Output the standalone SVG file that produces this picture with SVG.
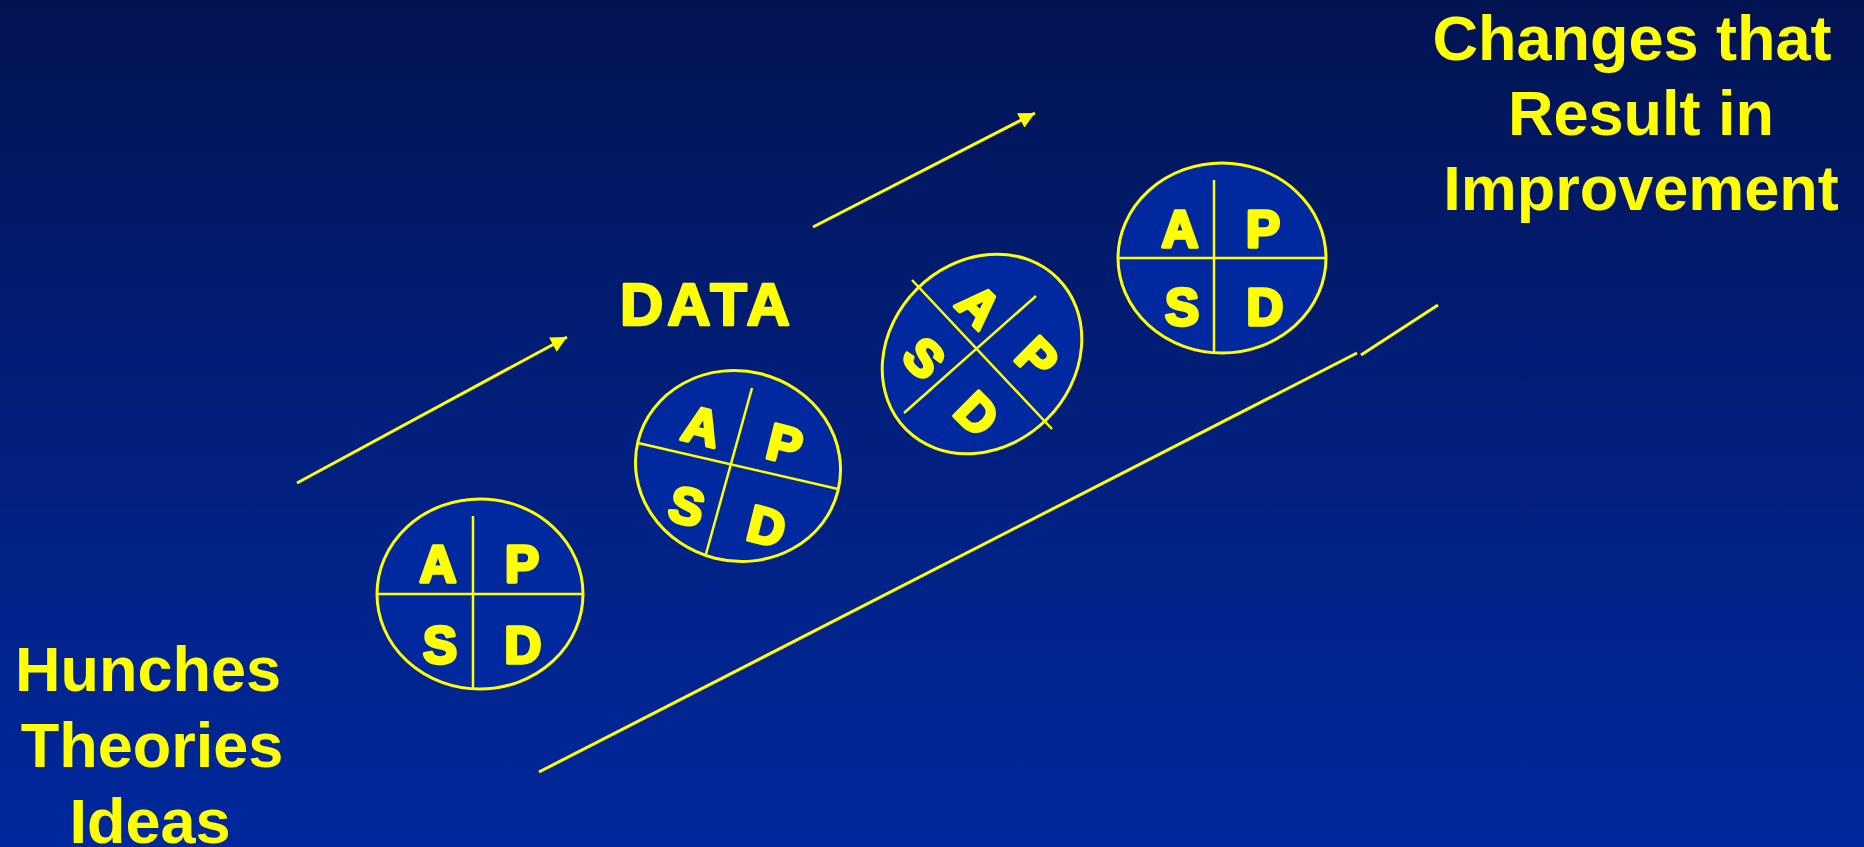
<svg xmlns="http://www.w3.org/2000/svg" width="1864" height="847" viewBox="0 0 1864 847">
  <defs>
    <linearGradient id="bg" x1="0" y1="0" x2="0" y2="1">
      <stop offset="0" stop-color="#021352"/>
      <stop offset="0.5" stop-color="#011f7c"/>
      <stop offset="1" stop-color="#00289c"/>
    </linearGradient>
    <marker id="arrow" viewBox="0 0 10 10" refX="10" refY="5" markerWidth="18" markerHeight="16" markerUnits="userSpaceOnUse" orient="auto">
      <path d="M0,0 L10,5 L0,10 z" fill="#ffff00"/>
    </marker>
    <style>
      .ell { fill: #0029a0; stroke: #ffff00; stroke-width: 3; }
      .div { stroke: #ffff00; stroke-width: 2.5; fill: none; }
      .conn { stroke: #ffff00; stroke-width: 3; fill: none; }
      .ltr { font-family: "Liberation Sans", Arial, sans-serif; font-weight: bold; font-size: 51px; fill: #ffff00; stroke: #ffff00; stroke-width: 3.5; stroke-linejoin: round; text-anchor: middle; }
      .big { font-family: "Liberation Sans", Arial, sans-serif; font-weight: bold; font-size: 63px; fill: #ffff00; text-anchor: middle; }
      .data { font-family: "Liberation Sans", Arial, sans-serif; font-weight: bold; font-size: 60px; fill: #ffff00; stroke: #ffff00; stroke-width: 2.5; stroke-linejoin: round; letter-spacing: 4px; }
    </style>
  </defs>
  <rect x="0" y="0" width="1864" height="847" fill="url(#bg)"/>

  <g id="connectors">
    <line class="conn" x1="297" y1="483" x2="567" y2="337" marker-end="url(#arrow)"/>
    <line class="conn" x1="813" y1="227" x2="1035" y2="113" marker-end="url(#arrow)"/>
    <line class="conn" x1="539" y1="772" x2="1357" y2="353"/>
    <line class="conn" x1="1361" y1="355" x2="1438" y2="305"/>
  </g>

  <g id="pdsa1">
    <ellipse class="ell" cx="480" cy="594" rx="103" ry="95"/>
    <line class="div" x1="377" y1="594" x2="583" y2="594"/>
    <line class="div" x1="473" y1="516" x2="473" y2="689"/>
    <text class="ltr" x="438" y="582">A</text>
    <text class="ltr" x="522" y="582">P</text>
    <text class="ltr" x="440" y="663">S</text>
    <text class="ltr" x="523" y="663">D</text>
  </g>

  <g id="pdsa2">
    <ellipse class="ell" cx="738" cy="466" rx="103" ry="95" transform="rotate(14 738 466)"/>
    <line class="div" x1="638" y1="443" x2="838" y2="489"/>
    <line class="div" x1="752" y1="388" x2="706" y2="554"/>
    <text class="ltr" transform="translate(702 425) rotate(14)" y="19">A</text>
    <text class="ltr" transform="translate(785 443) rotate(14)" y="19">P</text>
    <text class="ltr" transform="translate(687 505) rotate(14)" y="19">S</text>
    <text class="ltr" transform="translate(767 525) rotate(14)" y="19">D</text>
  </g>

  <g id="pdsa3">
    <ellipse class="ell" cx="982" cy="354" rx="107" ry="92" transform="rotate(-45 982 354)"/>
    <line class="div" x1="912" y1="280" x2="1052" y2="429"/>
    <line class="div" x1="1036" y1="296" x2="904" y2="413"/>
    <text class="ltr" transform="translate(980 305) rotate(45)" y="19">A</text>
    <text class="ltr" transform="translate(1038 357) rotate(45)" y="19">P</text>
    <text class="ltr" transform="translate(925 357) rotate(45)" y="19">S</text>
    <text class="ltr" transform="translate(978 413) rotate(45)" y="19">D</text>
  </g>

  <g id="pdsa4">
    <ellipse class="ell" cx="1222" cy="258" rx="104" ry="95"/>
    <line class="div" x1="1118" y1="258" x2="1326" y2="258"/>
    <line class="div" x1="1214" y1="180" x2="1214" y2="353"/>
    <text class="ltr" x="1180" y="247">A</text>
    <text class="ltr" x="1263" y="247">P</text>
    <text class="ltr" x="1182" y="325">S</text>
    <text class="ltr" x="1265" y="325">D</text>
  </g>

  <g id="data-label">
    <text class="data" x="620" y="325">DATA</text>
  </g>

  <g id="changes-label">
    <text class="big" x="1632" y="60">Changes that</text>
    <text class="big" x="1641" y="135">Result in</text>
    <text class="big" x="1641" y="210">Improvement</text>
  </g>

  <g id="hunches-label">
    <text class="big" x="148" y="691">Hunches</text>
    <text class="big" x="152" y="767">Theories</text>
    <text class="big" x="150" y="843">Ideas</text>
  </g>
</svg>
